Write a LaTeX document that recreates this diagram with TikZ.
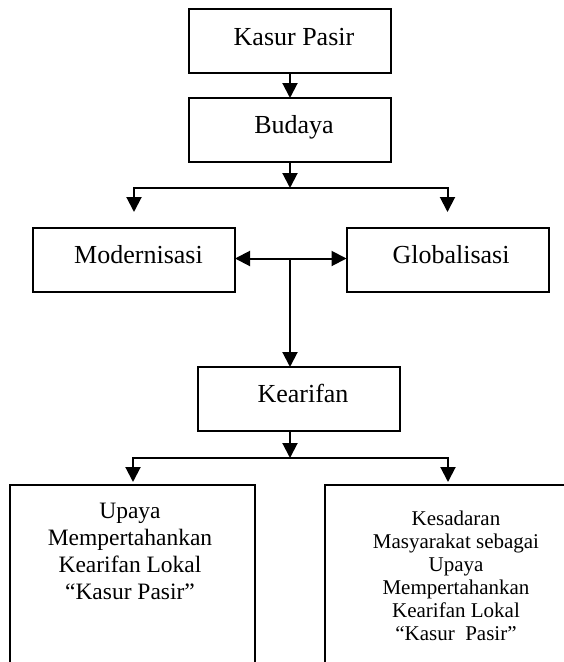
\documentclass[tikz,border=0pt]{standalone}
\usepackage{fontspec}
\setmainfont{Liberation Serif}
\usetikzlibrary{arrows.meta}
\begin{document}
\begin{tikzpicture}[x=1pt,y=-1pt,
  box/.style={draw,line width=2pt,minimum width=202pt,minimum height=64pt,inner sep=0pt,outer sep=0pt},
  bigbox/.style={draw,line width=2pt,minimum width=245pt,minimum height=220pt,inner sep=0pt,outer sep=0pt},
  lbl/.style={anchor=base,inner sep=0pt,font=\fontsize{26}{30}\selectfont},
  bigtxt/.style={anchor=north,inner sep=0pt,align=center,font=\fontsize{23.5}{27}\selectfont},
  smalltxt/.style={anchor=north,inner sep=0pt,align=center,font=\fontsize{21}{23}\selectfont},
  conn/.style={line width=2pt},
  arr/.style={conn,-{Triangle[width=15pt,length=15pt]}},
  darr/.style={conn,{Triangle[width=15pt,length=15pt]}-{Triangle[width=15pt,length=15pt]}},
]
\useasboundingbox[fill=white] (0,0) rectangle (564,662);

% boxes
\node[box] (kasur) at (290,41) {};
\node[box] (budaya) at (290,130) {};
\node[box] (modern) at (134,259.5) {};
\node[box] (global) at (447.5,259.5) {};
\node[box] (kearifan) at (299,399) {};
\node[bigbox] (upaya) at (132.5,595) {};
\node[bigbox] (kesadaran) at (447.5,595) {};

% texts
\node[lbl] (tkasur) at (294,45) {Kasur Pasir};
\node[lbl] (tbudaya) at (294,133) {Budaya};
\node[lbl] (tmodern) at (138.5,263) {Modernisasi};
\node[lbl] (tglobal) at (451,263) {Globalisasi};
\node[lbl] (tkearifan) at (303,402) {Kearifan};
\node[bigtxt] (tupaya) at (130,502.5) {Upaya\\Mempertahankan\\Kearifan Lokal\\“Kasur Pasir”};
\node[smalltxt] (tkesadaran) at (456,511) {Kesadaran\\Masyarakat sebagai\\Upaya\\Mempertahankan\\Kearifan Lokal\\“Kasur\ \ Pasir”};

% connector points
\coordinate (split1) at (290,188);
\coordinate (l1tip) at (134,212);
\coordinate (r1tip) at (447.5,212);
\coordinate (junc) at (290,258.5);
\coordinate (split2) at (290,458);
\coordinate (l2tip) at (133,482);
\coordinate (r2tip) at (448,482);

% connectors
\draw[arr] (kasur.south) -- (budaya.north);
\draw[arr] (budaya.south) -- (split1);
\draw[arr] (split1) -| (l1tip);
\draw[arr] (split1) -| (r1tip);
\draw[darr] (modern.east |- junc) -- (global.west |- junc);
\draw[arr] (junc) -- (junc |- kearifan.north);
\draw[arr] (kearifan.south -| junc) -- (split2);
\draw[arr] (split2) -| (l2tip);
\draw[arr] (split2) -| (r2tip);
\end{tikzpicture}
\end{document}
